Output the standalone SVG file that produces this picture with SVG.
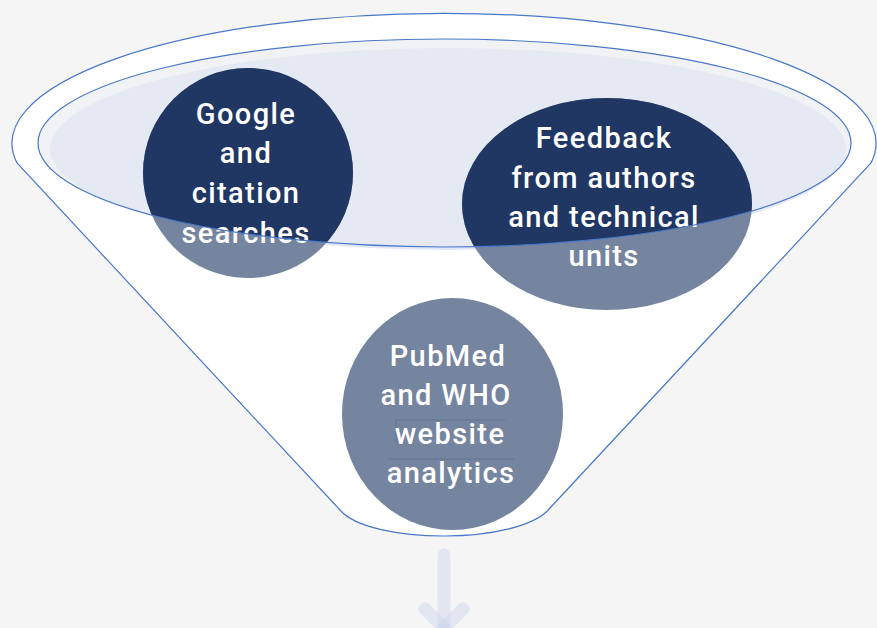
<svg xmlns="http://www.w3.org/2000/svg" width="877" height="628" viewBox="0 0 877 628">
  <style>
    .outline { fill: none; stroke: #4a78c8; stroke-width: 1.2; }
    .soft { fill: #75859f; }
    .deep { fill: #213763; }
    .label { font-family: Roboto, "Liberation Sans", sans-serif; font-size: 29px; font-weight: 500; fill: #ffffff; text-anchor: middle; letter-spacing: 1.4px; }
    .artifact { stroke: #5d6c88; stroke-width: 1; fill: none; opacity: 0.7; }
    .flow { fill: none; stroke: #cdd5ee; stroke-width: 13; stroke-linecap: round; opacity: 0.45; }
  </style>
  <defs>
    <clipPath id="rim">
      <ellipse cx="444.5" cy="143" rx="406.5" ry="104"/>
    </clipPath>
  </defs>

  <rect width="877" height="628" fill="#f5f5f5"/>

  <!-- funnel body -->
  <g id="funnel">
    <path d="M17 163 A432 130 0 1 1 871 163 L550 508 C520 545 370 545 340 510 Z" fill="#ffffff" stroke="#4a78c8" stroke-width="1.2"/>
    <ellipse cx="444.5" cy="143" rx="406.5" ry="104" fill="#f1f2f5"/>
    <ellipse cx="448" cy="149" rx="398" ry="101" fill="#e5e9f4"/>
  </g>

  <!-- source: Google and citation searches -->
  <g id="node-google">
    <circle cx="248" cy="173" r="105" class="soft"/>
    <circle cx="248" cy="173" r="105" class="deep" clip-path="url(#rim)"/>
    <text class="label" x="246" y="124">Google</text>
    <text class="label" x="246" y="163">and</text>
    <text class="label" x="246" y="203">citation</text>
    <text class="label" x="246" y="243">searches</text>
  </g>

  <!-- source: feedback from authors and technical units -->
  <g id="node-feedback">
    <ellipse cx="607" cy="204" rx="145" ry="106" class="soft"/>
    <ellipse cx="607" cy="204" rx="145" ry="106" class="deep" clip-path="url(#rim)"/>
    <text class="label" x="604" y="148">Feedback</text>
    <text class="label" x="604" y="188">from authors</text>
    <text class="label" x="604" y="227">and technical</text>
    <text class="label" x="604" y="266">units</text>
  </g>

  <!-- source: PubMed and WHO website analytics -->
  <g id="node-pubmed">
    <ellipse cx="452.5" cy="414" rx="110.5" ry="116" class="soft"/>
    <path class="artifact" d="M396 444 V420 H505"/>
    <path class="artifact" d="M389 459 H514"/>
    <text class="label" x="448" y="366">PubMed</text>
    <text class="label" x="446" y="405">and WHO</text>
    <text class="label" x="450" y="444">website</text>
    <text class="label" x="451" y="483">analytics</text>
  </g>

  <!-- rim of the funnel mouth, drawn over the sources -->
  <g id="rim-lines">
    <ellipse cx="444.5" cy="143" rx="406.5" ry="104" class="outline"/>
  </g>

  <!-- output arrow below the funnel -->
  <g id="connectors">
    <path class="flow" d="M444 555 V628"/>
    <path class="flow" d="M425 609 L444 628"/>
    <path class="flow" d="M463 609 L444 628"/>
  </g>
</svg>
